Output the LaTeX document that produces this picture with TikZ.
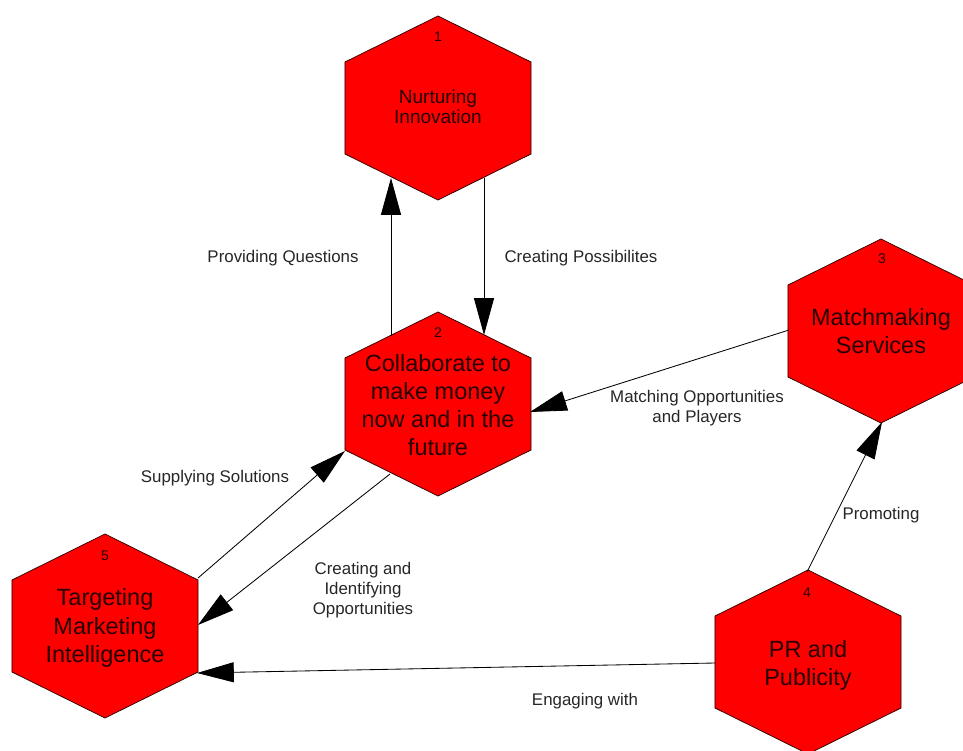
\documentclass[tikz,border=0pt]{standalone}
\usepackage{fontspec}
\setmainfont{Liberation Sans}
\usetikzlibrary{shapes.geometric,arrows.meta,calc}
\definecolor{hexred}{RGB}{255,0,0}
\begin{document}
\begin{tikzpicture}[x=0.025cm,y=-0.025cm,
    hexa/.style={draw=black!85!red,line width=0.5pt,fill=hexred,regular polygon,regular polygon sides=6,
      shape border rotate=30,minimum size=4.6cm,inner sep=0pt,xscale=1.167,transform shape},
    hexnum/.style={font=\fontsize{10}{12}\selectfont,text=black!85!red},
    hextext/.style={align=center,font=\fontsize{16.7}{20}\selectfont,text=black!85!red},
    flowlabel/.style={align=center,font=\fontsize{12}{14}\selectfont,text=black!85},
    flow/.style={line width=0.6pt,-{Triangle[length=0.92cm,width=0.5cm]}}]
    \useasboundingbox (0,0) rectangle (963,751);
    \clip (0,0) rectangle (963,751);
    %% Objects
    \node[hexa] (inno) at (438,108) {};
    \node[hexa] (coll) at (438,404) {};
    \node[hexa] (match) at (881,331) {};
    \node[hexa] (pr) at (808,662) {};
    \node[hexa] (target) at (105,626) {};
    %% Numbers and names
    \node[hexnum] (inno-n) at (438,37) {1};
    \node[hextext,font=\fontsize{13.5}{14.5}\selectfont] (inno-t) at (438,107) {Nurturing\\Innovation};
    \node[hexnum] (coll-n) at (438,333) {2};
    \node[hextext] (coll-t) at (438,405) {Collaborate to\\make money\\now and in the\\future};
    \node[hexnum] (match-n) at (882,259) {3};
    \node[hextext] (match-t) at (881,331) {Matchmaking\\Services};
    \node[hexnum] (pr-n) at (807,593) {4};
    \node[hextext] (pr-t) at (808,665) {PR and\\Publicity};
    \node[hexnum] (target-n) at (105,556) {5};
    \node[hextext] (target-t) at (105,628) {Targeting\\Marketing\\Intelligence};
    %% Flows
    \draw[flow] ($(coll)+(-47,-68)$) -- ($(inno)+(-47,70)$);
    \draw[flow] ($(inno)+(46,70)$) -- ($(coll)+(46,-69)$);
    \draw[flow] ($(match)+(-92,-1)$) -- ($(coll)+(92,8)$);
    \draw[flow] ($(target)+(93,-48)$) -- ($(coll)+(-93,47)$);
    \draw[flow] ($(coll)+(-48,70)$) -- ($(target)+(93,-1)$);
    \draw[flow] ($(pr)+(-93,1)$) -- ($(target)+(92,47)$);
    \draw[flow] ($(pr)+(-1,-90)$) -- ($(match)+(1,91)$);
    %% Labels
    \node[flowlabel] (lab-q) at (283,258) {Providing Questions};
    \node[flowlabel] (lab-p) at (581,258) {Creating Possibilites};
    \node[flowlabel] (lab-m) at (697,408) {Matching Opportunities\\and Players};
    \node[flowlabel] (lab-s) at (215,478) {Supplying Solutions};
    \node[flowlabel] (lab-c) at (363,590) {Creating and\\Identifying\\Opportunities};
    \node[flowlabel] (lab-e) at (585,701) {Engaging with};
    \node[flowlabel] (lab-pr) at (881,515) {Promoting};
\end{tikzpicture}
\end{document}
